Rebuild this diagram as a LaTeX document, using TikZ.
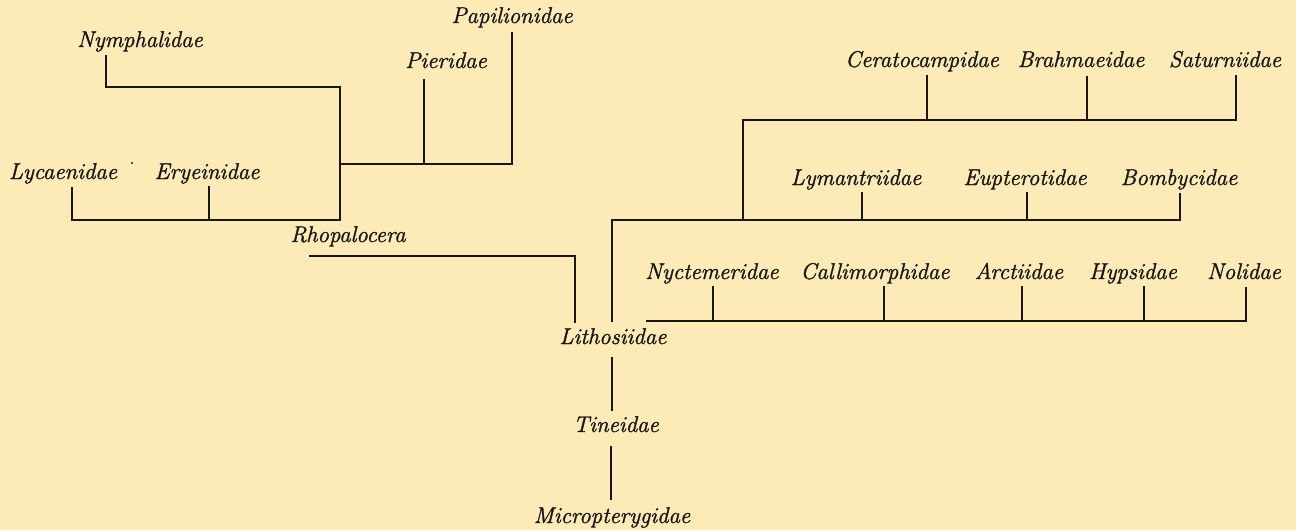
\documentclass[tikz,border=0pt]{standalone}
\usepackage{fontspec}
\newfontfamily\labfont{Latin Modern Roman}[FakeBold=1.3]
\definecolor{bg}{RGB}{252,235,183}
\definecolor{ink}{RGB}{24,22,18}
\tikzset{
  lab/.style={font=\labfont\fontsize{22.8}{26}\selectfont\itshape, text=ink, inner sep=0pt, anchor=base},
  br/.style={draw=ink, line width=2.8pt, line join=miter, line cap=butt}
}
\begin{document}
\begin{tikzpicture}[x=1pt,y=-1pt]
\fill[bg] (0,0) rectangle (1296,530);
\useasboundingbox (0,0) rectangle (1296,530);

% ---------- labels ----------
\node[lab] (pap) at (512,23) {Papilionidae};
\node[lab] (nym) at (140,47) {Nymphalidae};
\node[lab] (pie) at (446,68) {Pieridae};
\node[lab] (lyc) at (63,179) {Lycaenidae};
\node[lab] (ery) at (207,179) {Eryeinidae};
\node[lab] (rho) at (348,242) {Rhopalocera};
\node[lab] (cer) at (922,67) {Ceratocampidae};
\node[lab] (bra) at (1081,67) {Brahmaeidae};
\node[lab] (sat) at (1225,67) {Saturniidae};
\node[lab] (lym) at (856,185) {Lymantriidae};
\node[lab] (eup) at (1025,185) {Eupterotidae};
\node[lab] (bom) at (1179,185) {Bombycidae};
\node[lab] (nyc) at (712,279) {Nyctemeridae};
\node[lab] (cal) at (875,279) {Callimorphidae};
\node[lab] (arc) at (1019,279) {Arctiidae};
\node[lab] (hyp) at (1133,279) {Hypsidae};
\node[lab] (nol) at (1244,279) {Nolidae};
\node[lab] (lit) at (613,344) {Lithosiidae};
\node[lab] (tin) at (616,432) {Tineidae};
\node[lab] (mic) at (612,523) {Micropterygidae};

% ---------- junction points ----------
\coordinate (papT) at (512,32);  \coordinate (papB) at (512,164);
\coordinate (pieT) at (424,79);  \coordinate (pieB) at (424,164);
\coordinate (rhoJ) at (340,164);
\coordinate (nymT) at (106,55);  \coordinate (nymB) at (106,87);
\coordinate (rhoU) at (340,87);  \coordinate (rhoD) at (340,220);
\coordinate (lycT) at (72,187);  \coordinate (lycB) at (72,220);
\coordinate (eryT) at (209,186); \coordinate (eryB) at (209,220);
\coordinate (rhoL) at (309,256); \coordinate (rhoC) at (575,256); \coordinate (rhoE) at (575,323);

\coordinate (cerT) at (927,75);  \coordinate (cerB) at (927,120);
\coordinate (braT) at (1087,76); \coordinate (braB) at (1087,120);
\coordinate (satT) at (1236,75); \coordinate (satB) at (1236,120);
\coordinate (satL) at (743,120); \coordinate (satJ) at (743,220);
\coordinate (lymT) at (862,192); \coordinate (lymB) at (862,220);
\coordinate (eupT) at (1027,192);\coordinate (eupB) at (1027,220);
\coordinate (bomT) at (1180,193);\coordinate (bomB) at (1180,220);
\coordinate (trL) at (612,220);  \coordinate (trB) at (612,322);

\coordinate (nycT) at (713,286); \coordinate (nycB) at (713,321);
\coordinate (calT) at (884,286); \coordinate (calB) at (884,321);
\coordinate (arcT) at (1022,286);\coordinate (arcB) at (1022,321);
\coordinate (hypT) at (1144,286);\coordinate (hypB) at (1144,321);
\coordinate (nolT) at (1246,287);\coordinate (nolB) at (1246,321);
\coordinate (nycL) at (646,321);

\coordinate (litD) at (612,357); \coordinate (tinU) at (612,411);
\coordinate (tinD) at (611,446); \coordinate (micU) at (611,500);

% ---------- butterflies ----------
\draw[br] (papT) -- (papB) -- (rhoJ);
\draw[br] (pieT) -- (pieB);
\draw[br] (nymT) -- (nymB) -- (rhoU) -- (rhoD) -- (lycB) -- (lycT);
\draw[br] (eryT) -- (eryB);
\draw[br] (rhoL) -- (rhoC) -- (rhoE);
\fill[ink] (132,163) circle (1.2);

% ---------- moths ----------
\draw[br] (satT) -- (satB) -- (satL) -- (satJ);
\draw[br] (cerT) -- (cerB);
\draw[br] (braT) -- (braB);
\draw[br] (bomT) -- (bomB) -- (trL) -- (trB);
\draw[br] (lymT) -- (lymB);
\draw[br] (eupT) -- (eupB);
\draw[br] (nolT) -- (nolB) -- (nycL);
\draw[br] (nycT) -- (nycB);
\draw[br] (calT) -- (calB);
\draw[br] (arcT) -- (arcB);
\draw[br] (hypT) -- (hypB);

% ---------- stem ----------
\draw[br] (litD) -- (tinU);
\draw[br] (tinD) -- (micU);
\end{tikzpicture}
\end{document}
